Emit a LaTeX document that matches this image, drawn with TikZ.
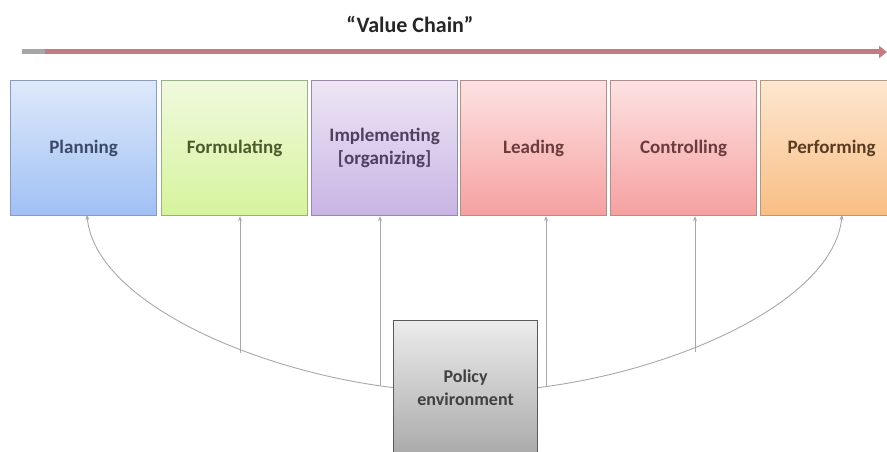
\documentclass[tikz,border=0pt]{standalone}
\usepackage{fontspec}
\setmainfont{Carlito}
\usetikzlibrary{arrows.meta}
\definecolor{arrowred}{HTML}{C47A80}
\definecolor{conn}{HTML}{A8A8A8}
\definecolor{bdBlue}{HTML}{8A9AB8}
\definecolor{bdGreen}{HTML}{9AAF86}
\definecolor{bdPurple}{HTML}{9A8AA8}
\definecolor{bdRed}{HTML}{B08E8E}
\definecolor{bdOrange}{HTML}{B09A84}
\definecolor{bdGray}{HTML}{5A5A5A}
\definecolor{blueT}{RGB}{222,233,251}\definecolor{blueB}{RGB}{160,192,244}\definecolor{blueX}{RGB}{60,74,105}
\definecolor{greenT}{RGB}{240,249,222}\definecolor{greenB}{RGB}{214,244,156}\definecolor{greenX}{RGB}{74,92,44}
\definecolor{purpT}{RGB}{238,230,245}\definecolor{purpB}{RGB}{200,180,228}\definecolor{purpX}{RGB}{78,64,96}
\definecolor{redT}{RGB}{253,226,226}\definecolor{redB}{RGB}{246,160,160}\definecolor{redX}{RGB}{108,60,60}
\definecolor{orT}{RGB}{253,231,208}\definecolor{orB}{RGB}{249,190,132}\definecolor{orX}{RGB}{92,60,32}
\definecolor{grT}{RGB}{236,236,236}\definecolor{grB}{RGB}{170,170,170}\definecolor{grX}{RGB}{64,64,64}
\tikzset{
  stagebox/.style={draw=#1, line width=1.2pt, minimum width=146pt, minimum height=135pt,
    anchor=north west, inner sep=2pt, align=center, font=\fontsize{19}{23}\selectfont\bfseries},
  link/.style={draw=conn, line width=0.9pt, -{Stealth[length=5pt,width=4pt]}},
}
\begin{document}
\begin{tikzpicture}[x=1pt,y=-1pt]
\useasboundingbox (0,0) rectangle (887,452);
\clip (0,0) rectangle (887,452);
% title and value chain arrow
\node[font=\fontsize{22}{24}\selectfont\bfseries, text=black!85] (title) at (410,24) {“Value Chain”};
\coordinate (vcL) at (22,52);
\coordinate (vcM) at (45,52);
\coordinate (vcR) at (887,52);
\draw[line width=5pt, gray!70] (vcL) -- (vcM);
\draw[line width=5pt, arrowred, -{Triangle[length=8pt,width=12pt]}] (vcM) -- (vcR);
% stages
\node[stagebox=bdBlue, top color=blueT, bottom color=blueB, text=blueX] (plan) at (10,80) {Planning};
\node[stagebox=bdGreen, top color=greenT, bottom color=greenB, text=greenX] (form) at (161,80) {Formulating};
\node[stagebox=bdPurple, top color=purpT, bottom color=purpB, text=purpX] (impl) at (311,80) {Implementing\\{[}organizing{]}};
\node[stagebox=bdRed, top color=redT, bottom color=redB, text=redX] (lead) at (460,80) {Leading};
\node[stagebox=bdRed, top color=redT, bottom color=redB, text=redX] (ctrl) at (610,80) {Controlling};
\node[stagebox=bdOrange, top color=orT, bottom color=orB, text=orX, minimum width=142pt] (perf) at (760,80) {Performing};
% policy environment
\node[draw=bdGray, line width=1.2pt, minimum width=144pt, minimum height=134pt, anchor=north west, align=center,
  top color=grT, bottom color=grB, text=grX, font=\fontsize{18}{23}\selectfont\bfseries] (pol) at (393,320) {Policy\\environment};
% connectors
\coordinate (fS) at (240,353);
\coordinate (iS) at (380,386);
\coordinate (lS) at (546,387);
\coordinate (cS) at (695,352);
\coordinate (pT) at (87,215);
\coordinate (rT) at (842,215);
\draw[link] (pol.west) .. controls (250,370) and (95,300) .. (pT);
\draw[link] (pol.east) .. controls (680,370) and (834,300) .. (rT);
\draw[link] (fS) -- (fS |- form.south);
\draw[link] (iS) -- (iS |- impl.south);
\draw[link] (lS) -- (lS |- lead.south);
\draw[link] (cS) -- (cS |- ctrl.south);
\end{tikzpicture}
\end{document}
